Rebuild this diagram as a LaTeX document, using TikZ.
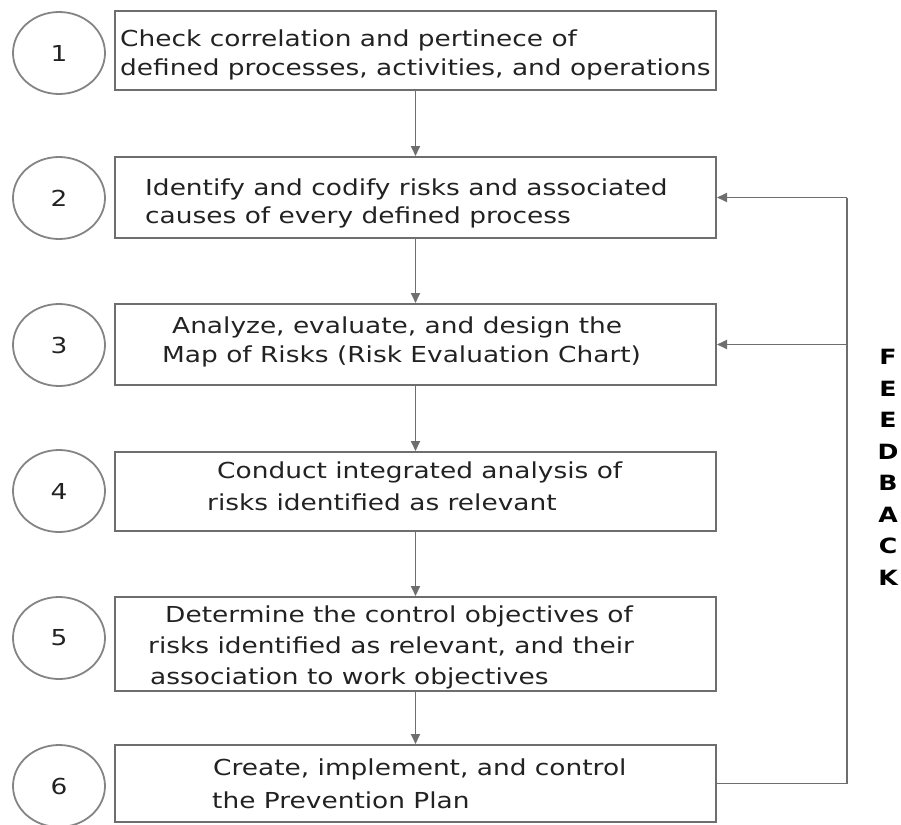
\documentclass[tikz,border=0pt]{standalone}
\usepackage{fontspec}
\setmainfont{DejaVu Sans}[FakeStretch=1.2]
\usetikzlibrary{arrows.meta,shapes.geometric}
\definecolor{linegray}{HTML}{6E6E6E}
\definecolor{txtgray}{HTML}{222222}
\begin{document}
\begin{tikzpicture}[x=1pt,y=-1pt,
  box/.style={draw=linegray,line width=2pt,minimum width=601pt,inner sep=0pt},
  num/.style={ellipse,draw=linegray!85,line width=1.8pt,minimum width=92pt,minimum height=82pt,inner sep=0pt,font=\fontsize{22}{26}\selectfont,text=txtgray},
  txt/.style={anchor=base west,inner sep=0pt,font=\fontsize{22}{26}\selectfont,text=txtgray},
  fb/.style={inner sep=0pt,font=\fontsize{21}{25}\selectfont\bfseries,text=black},
  arr/.style={draw=linegray,line width=1.8pt,-{Triangle[length=10pt,width=9pt]}},
  ln/.style={draw=linegray,line width=1.8pt}]
\useasboundingbox (0,0) rectangle (901,824);
% boxes
\node[box,minimum height=79pt] (b1) at (415.5,50.5) {};
\node[box,minimum height=81pt] (b2) at (415.5,197.5) {};
\node[box,minimum height=81pt] (b3) at (415.5,344.5) {};
\node[box,minimum height=79pt] (b4) at (415.5,491.5) {};
\node[box,minimum height=94pt] (b5) at (415.5,644) {};
\node[box,minimum height=77pt] (b6) at (415.5,783.5) {};
% circles
\node[num] (c1) at (59,53) {1};
\node[num] (c2) at (59,198) {2};
\node[num] (c3) at (59,345) {3};
\node[num] (c4) at (59,491) {4};
\node[num] (c5) at (59,638) {5};
\node[num] (c6) at (59,786) {6};
% texts
\node[txt] (t1a) at (120,47) {Check correlation and pertinece of};
\node[txt] (t1b) at (120,76) {defined processes, activities, and operations};
\node[txt] (t2a) at (145,195) {Identify and codify risks and associated};
\node[txt] (t2b) at (145,223) {causes of every defined process};
\node[txt] (t3a) at (172,333) {Analyze, evaluate, and design the};
\node[txt] (t3b) at (162,362) {Map of Risks (Risk Evaluation Chart)};
\node[txt] (t4a) at (217,478) {Conduct integrated analysis of};
\node[txt] (t4b) at (207,510) {risks identified as relevant};
\node[txt] (t5a) at (165,622) {Determine the control objectives of};
\node[txt] (t5b) at (148,653) {risks identified as relevant, and their};
\node[txt] (t5c) at (150,684) {association to work objectives};
\node[txt] (t6a) at (213,775) {Create, implement, and control};
\node[txt] (t6b) at (212,808) {the Prevention Plan};
% feedback letters
\node[fb] (f1) at (888,357) {F};
\node[fb] (f2) at (888,388.5) {E};
\node[fb] (f3) at (888,420) {E};
\node[fb] (f4) at (888,451.5) {D};
\node[fb] (f5) at (888,483) {B};
\node[fb] (f6) at (888,514.5) {A};
\node[fb] (f7) at (888,546) {C};
\node[fb] (f8) at (888,577.5) {K};
% down arrows
\draw[arr] (b1.south) -- (b2.north);
\draw[arr] (b2.south) -- (b3.north);
\draw[arr] (b3.south) -- (b4.north);
\draw[arr] (b4.south) -- (b5.north);
\draw[arr] (b5.south) -- (b6.north);
% feedback loop
\coordinate (fbot) at (847,783.5);
\coordinate (ftop) at (847,197.5);
\coordinate (fmid) at (847,344.5);
\draw[ln] (b6.east) -- (fbot) -- (ftop);
\draw[arr] (ftop) -- (b2.east);
\draw[arr] (fmid) -- (b3.east);
\end{tikzpicture}
\end{document}
